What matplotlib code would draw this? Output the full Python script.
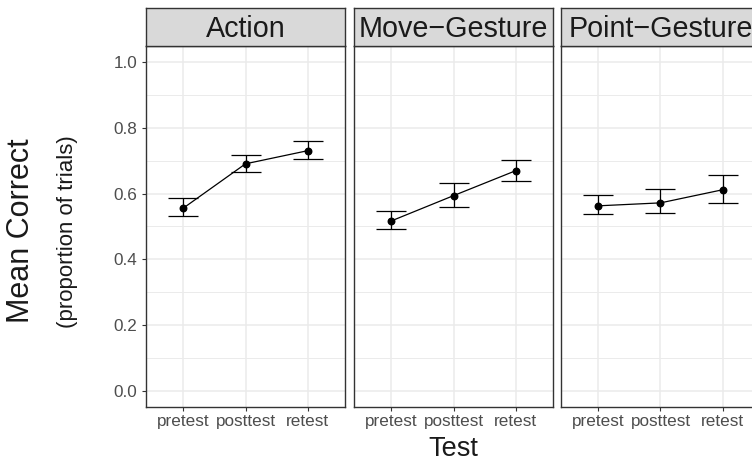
import numpy as np
import matplotlib.pyplot as plt
from matplotlib.ticker import MultipleLocator

plt.rcParams['font.family'] = ['Liberation Sans', 'DejaVu Sans']

tests = ['pretest', 'posttest', 'retest']
conditions = ['Action', 'Move\u2212Gesture', 'Point\u2212Gesture']

# mean and error bar ends, one row per condition, columns follow tests
means = [[0.556, 0.691, 0.731],
         [0.517, 0.594, 0.670],
         [0.563, 0.572, 0.612]]
lower = [[0.531, 0.667, 0.705],
         [0.493, 0.560, 0.639],
         [0.538, 0.540, 0.573]]
upper = [[0.587, 0.718, 0.760],
         [0.547, 0.632, 0.703],
         [0.596, 0.614, 0.658]]

W, H = 752, 462
fig = plt.figure(figsize=(W / 100, H / 100), dpi=100)

panel_left = [146, 354, 561]
panel_w = 199
panel_top, panel_bot, strip_top = 46, 407, 8

edge = '#333333'
grid = '#EBEBEB'

x = np.arange(1, len(tests) + 1)

for i, cond in enumerate(conditions):
    ax = fig.add_axes([panel_left[i] / W, 1 - panel_bot / H,
                       panel_w / W, (panel_bot - panel_top) / H])
    ax.set_xlim(0.4, 3.6)
    ax.set_ylim(-0.05, 1.05)
    ax.yaxis.set_major_locator(MultipleLocator(0.2))
    ax.yaxis.set_minor_locator(MultipleLocator(0.1))
    ax.set_xticks(x)
    ax.set_xticklabels(tests)
    ax.grid(True, which='major', color=grid, lw=1.1, zorder=0)
    ax.grid(True, which='minor', axis='y', color=grid, lw=0.7, zorder=0)
    ax.set_axisbelow(True)
    for s in ax.spines.values():
        s.set_color(edge)
        s.set_linewidth(1.0)
    ax.tick_params(which='major', length=2.8, width=0.8, color=edge,
                   labelcolor='#4D4D4D', labelsize=12.3)
    ax.tick_params(axis='x', pad=2)
    ax.tick_params(axis='y', pad=3.5)
    ax.tick_params(which='minor', length=0)
    if i > 0:
        ax.tick_params(axis='y', labelleft=False, length=0)

    m = np.array(means[i])
    lo = np.array(lower[i])
    hi = np.array(upper[i])
    ax.errorbar(x, m, yerr=[m - lo, hi - m], fmt='none', ecolor='black',
                elinewidth=0.9, capsize=11, capthick=0.9, zorder=3)
    ax.plot(x, m, color='black', lw=0.9, zorder=4)
    ax.scatter(x, m, s=22, color='black', zorder=5)

    sax = fig.add_axes([panel_left[i] / W, 1 - panel_top / H,
                        panel_w / W, (panel_top - strip_top) / H])
    sax.set_facecolor('#D9D9D9')
    sax.set_xticks([])
    sax.set_yticks([])
    for s in sax.spines.values():
        s.set_color(edge)
        s.set_linewidth(1.0)
    sax.text(0.5, 0.46, cond, ha='center', va='center', fontsize=20.7,
             color='#1A1A1A', transform=sax.transAxes)

fig.text(21 / W, 1 - 231 / H, 'Mean Correct', rotation=90, ha='center',
         va='center', fontsize=22, color='#1A1A1A')
fig.text(68 / W, 1 - 232 / H, '(proportion of trials)', rotation=90,
         ha='center', va='center', fontsize=16, color='#1A1A1A')
fig.text(453.5 / W, 1 - 456.5 / H, 'Test', ha='center', va='baseline',
         fontsize=19.5, color='#1A1A1A')

fig.savefig('out.png', dpi=100)
